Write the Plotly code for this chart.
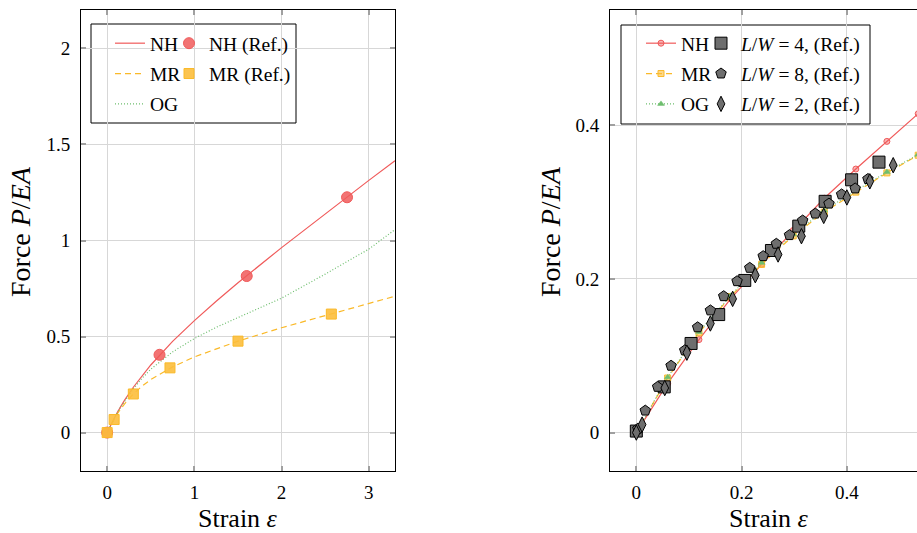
import plotly.graph_objects as go

# ---------------- data (left panel) ----------------
left_x = [0, 0.05, 0.1, 0.15, 0.2, 0.3, 0.4, 0.5, 0.75, 1.0, 1.25, 1.5, 2.0, 2.5, 3.0, 3.3]
left_nh = [0, 0.048, 0.091, 0.131, 0.169, 0.236, 0.297, 0.352, 0.475, 0.583, 0.684, 0.780, 0.963, 1.139, 1.313, 1.415]
left_mr = [0, 0.046, 0.086, 0.120, 0.150, 0.201, 0.242, 0.276, 0.342, 0.394, 0.437, 0.476, 0.546, 0.610, 0.673, 0.710]
left_og = [0, 0.048, 0.090, 0.130, 0.165, 0.228, 0.283, 0.330, 0.420, 0.490, 0.548, 0.600, 0.700, 0.825, 0.955, 1.057]

nh_ref_x = [0, 0.6, 1.6, 2.75]
nh_ref_y = [0, 0.405, 0.815, 1.225]
mr_ref_x = [0, 0.08, 0.3, 0.72, 1.5, 2.57]
mr_ref_y = [0, 0.068, 0.201, 0.337, 0.476, 0.617]

# ---------------- data (right panel) ----------------
right_x = [0, 0.0595, 0.119, 0.179, 0.238, 0.298, 0.357, 0.417, 0.476, 0.5355]
right_nh = [0, 0.064, 0.121, 0.174, 0.219, 0.263, 0.305, 0.343, 0.379, 0.415]
right_mr = [0, 0.071, 0.130, 0.177, 0.219, 0.256, 0.287, 0.313, 0.338, 0.361]
right_og = [0, 0.072, 0.131, 0.178, 0.221, 0.258, 0.289, 0.315, 0.339, 0.362]

lw4_x = [0, 0.053, 0.104, 0.1565, 0.206, 0.2567, 0.3086, 0.3587, 0.409, 0.461]
lw4_y = [0.002, 0.0595, 0.116, 0.1536, 0.198, 0.237, 0.2687, 0.301, 0.329, 0.352]
lw8_x = [0.003, 0.017, 0.0405, 0.066, 0.092, 0.1165, 0.1407, 0.166, 0.1914, 0.2155,
         0.241, 0.266, 0.291, 0.316, 0.340, 0.366, 0.390, 0.4157, 0.440]
lw8_y = [0.005, 0.0286, 0.0595, 0.087, 0.107, 0.137, 0.159, 0.1775, 0.197, 0.2144,
         0.2296, 0.2457, 0.257, 0.276, 0.285, 0.298, 0.310, 0.3177, 0.330]
lw2_x = [0, 0.011, 0.054, 0.096, 0.1407, 0.183, 0.226, 0.2693, 0.3137, 0.356, 0.400, 0.4436, 0.488]
lw2_y = [0, 0.0104, 0.058, 0.104, 0.142, 0.174, 0.2048, 0.2318, 0.2556, 0.282, 0.306, 0.327, 0.348]

left_xticks = [0, 1, 2, 3]
left_yticks = [0, 0.5, 1, 1.5, 2]
left_yticklabels = ["0", "0.5", "1", "1.5", "2"]
right_xticks = [0, 0.2, 0.4]
right_yticks = [0, 0.2, 0.4]

# ---------------- styling ----------------
FONT = "Liberation Serif"
RED = "rgb(240,90,90)"
RED_FILL = "rgba(240,90,90,0.85)"
ORANGE = "rgb(250,185,40)"
ORANGE_FILL = "rgba(252,190,60,0.9)"
GREEN = "rgb(110,190,110)"
GRAY = "rgb(110,110,110)"

W, H = 917, 533
fig = go.Figure()

# left panel models
fig.add_trace(go.Scatter(x=left_x, y=left_nh, mode="lines", name="NH",
                         line=dict(color=RED, width=1.2), xaxis="x", yaxis="y",
                         legend="legend", legendgroup="l1"))
fig.add_trace(go.Scatter(x=left_x, y=left_mr, mode="lines", name="MR",
                         line=dict(color=ORANGE, width=1.2, dash="6px,4px"), xaxis="x", yaxis="y",
                         legend="legend", legendgroup="l2"))
fig.add_trace(go.Scatter(x=left_x, y=left_og, mode="lines", name="OG",
                         line=dict(color=GREEN, width=1.2, dash="1px,2px"), xaxis="x", yaxis="y",
                         legend="legend", legendgroup="l3"))
fig.add_trace(go.Scatter(x=nh_ref_x, y=nh_ref_y, mode="markers", name="NH (Ref.)",
                         marker=dict(symbol="circle", size=11, color=RED_FILL,
                                     line=dict(color=RED, width=1)),
                         xaxis="x", yaxis="y", legend="legend2", legendgroup="m1"))
fig.add_trace(go.Scatter(x=mr_ref_x, y=mr_ref_y, mode="markers", name="MR (Ref.)",
                         marker=dict(symbol="square", size=10, color=ORANGE_FILL,
                                     line=dict(color=ORANGE, width=1)),
                         xaxis="x", yaxis="y", legend="legend2", legendgroup="m2"))

# right panel models
fig.add_trace(go.Scatter(x=right_x, y=right_nh, mode="lines+markers", name="NH",
                         line=dict(color=RED, width=1.2),
                         marker=dict(symbol="circle", size=6, color="rgba(240,90,90,0.45)",
                                     line=dict(color=RED, width=1)),
                         xaxis="x2", yaxis="y2", legend="legend3", legendgroup="r1"))
fig.add_trace(go.Scatter(x=right_x, y=right_mr, mode="lines+markers", name="MR",
                         line=dict(color=ORANGE, width=1.2, dash="6px,4px"),
                         marker=dict(symbol="square", size=6, color="rgba(252,190,60,0.6)",
                                     line=dict(color=ORANGE, width=1)),
                         xaxis="x2", yaxis="y2", legend="legend3", legendgroup="r2"))
fig.add_trace(go.Scatter(x=right_x, y=right_og, mode="lines+markers", name="OG",
                         line=dict(color=GREEN, width=1.2, dash="1px,2px"),
                         marker=dict(symbol="triangle-up", size=6, color=GREEN,
                                     line=dict(color=GREEN, width=0.5)),
                         xaxis="x2", yaxis="y2", legend="legend3", legendgroup="r3"))
fig.add_trace(go.Scatter(x=lw4_x, y=lw4_y, mode="markers", name="<i>L</i>/<i>W</i> = 4, (Ref.)",
                         marker=dict(symbol="square", size=12, color=GRAY,
                                     line=dict(color="black", width=1)),
                         xaxis="x2", yaxis="y2", legend="legend4", legendgroup="g1"))
fig.add_trace(go.Scatter(x=lw8_x, y=lw8_y, mode="markers", name="<i>L</i>/<i>W</i> = 8, (Ref.)",
                         marker=dict(symbol="pentagon", size=11, color=GRAY,
                                     line=dict(color="black", width=1)),
                         xaxis="x2", yaxis="y2", legend="legend4", legendgroup="g2"))
fig.add_trace(go.Scatter(x=lw2_x, y=lw2_y, mode="markers", name="<i>L</i>/<i>W</i> = 2, (Ref.)",
                         marker=dict(symbol="diamond-tall", size=11, color=GRAY,
                                     line=dict(color="black", width=1)),
                         xaxis="x2", yaxis="y2", legend="legend4", legendgroup="g3"))

# ---------------- axes ----------------
ydom = [(H - 471) / H, (H - 10) / H]
axis_common = dict(showgrid=True, gridcolor="rgb(215,215,215)", gridwidth=1,
                   zeroline=False, showline=True, linecolor="black", linewidth=1,
                   ticks="inside", ticklen=5, tickwidth=1.5, tickcolor="rgb(160,160,160)",
                   tickfont=dict(family=FONT, size=19, color="black"))

fig.update_layout(
    xaxis=dict(domain=[81 / W, 395 / W], range=[-0.3, 3.3], tickvals=left_xticks,
               anchor="y", mirror="ticks", ticklabelstandoff=4, **axis_common),
    yaxis=dict(domain=ydom, range=[-0.2, 2.2], tickvals=left_yticks, ticktext=left_yticklabels,
               anchor="x", mirror="ticks", ticklabelstandoff=6, **axis_common),
    xaxis2=dict(domain=[610 / W, 1.0], range=[-0.05, 0.5332], tickvals=right_xticks,
                anchor="y2", mirror="ticks", ticklabelstandoff=4, **axis_common),
    yaxis2=dict(domain=ydom, range=[-0.05, 0.55], tickvals=right_yticks,
                anchor="x2", mirror=False, ticklabelstandoff=6, **axis_common),
)

# ---------------- legends ----------------
leg_common = dict(font=dict(family=FONT, size=19.5, color="black"), bgcolor="rgba(255,255,255,0)",
                  borderwidth=0, xanchor="left", yanchor="top", traceorder="grouped",
                  tracegroupgap=2, itemclick=False, itemdoubleclick=False)
fig.update_layout(
    legend=dict(x=110 / W, y=1 - 24 / H, **leg_common),
    legend2=dict(x=169 / W, y=1 - 24 / H, **leg_common),
    legend3=dict(x=641 / W, y=1 - 24 / H, **leg_common),
    legend4=dict(x=701 / W, y=1 - 24 / H, **leg_common),
    showlegend=True,
)

shapes = [
    dict(type="rect", xref="paper", yref="paper", x0=91 / W, x1=296 / W,
         y0=1 - 123 / H, y1=1 - 24 / H, line=dict(color="black", width=1),
         fillcolor="white", layer="below"),
    dict(type="rect", xref="paper", yref="paper", x0=621 / W, x1=870 / W,
         y0=1 - 124 / H, y1=1 - 25 / H, line=dict(color="black", width=1),
         fillcolor="white", layer="below"),
]

XT_FONT = dict(family=FONT, size=26, color="black")
YT_FONT = dict(family=FONT, size=28, color="black")
annotations = [
    dict(text="Strain <i>ε</i>", xref="paper", yref="paper", x=238 / W, y=1 - 518.5 / H,
         showarrow=False, font=XT_FONT, xanchor="center", yanchor="middle"),
    dict(text="Strain <i>ε</i>", xref="paper", yref="paper", x=769 / W, y=1 - 518.5 / H,
         showarrow=False, font=XT_FONT, xanchor="center", yanchor="middle"),
    dict(text="Force <i>P</i>/<i>EA</i>", xref="paper", yref="paper", x=20 / W, y=1 - 232 / H,
         showarrow=False, textangle=-90, font=YT_FONT, xanchor="center", yanchor="middle"),
    dict(text="Force <i>P</i>/<i>EA</i>", xref="paper", yref="paper", x=550 / W, y=1 - 232 / H,
         showarrow=False, textangle=-90, font=YT_FONT, xanchor="center", yanchor="middle"),
]

fig.update_layout(
    width=W, height=H, margin=dict(l=0, r=0, t=0, b=0),
    paper_bgcolor="white", plot_bgcolor="white",
    shapes=shapes, annotations=annotations,
    font=dict(family=FONT, color="black"),
)

fig.write_html("out.html", config={"displayModeBar": False},
               post_script="document.body.style.margin='0';document.body.style.overflow='hidden';")
